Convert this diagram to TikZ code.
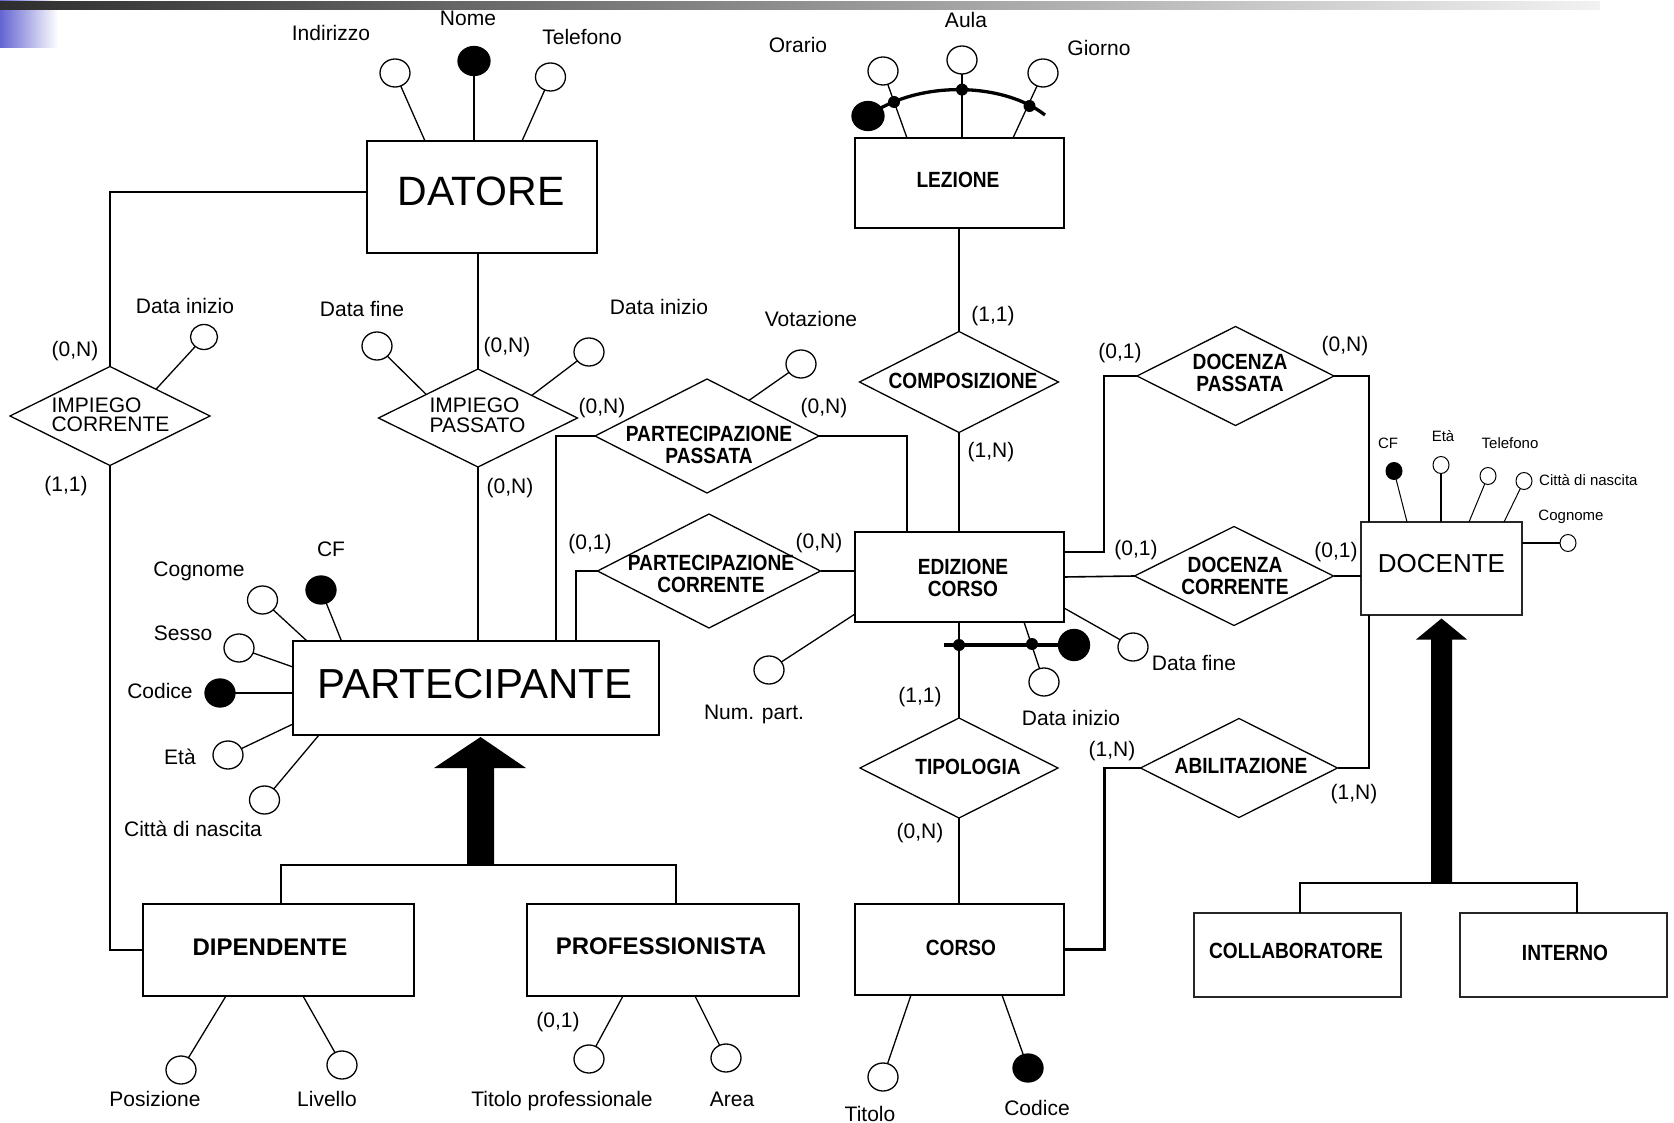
\documentclass[tikz,border=0pt]{standalone}
\usepackage{fontspec}
\setmainfont{Liberation Sans}
\newfontfamily\narrowsans{Liberation Sans}[FakeStretch=0.87]
\usetikzlibrary{shapes.geometric,calc}
\newcommand\fattr{\fontsize{21}{23}\selectfont}
\newcommand\fsmall{\fontsize{15}{17}\selectfont}
\newcommand\frel{\narrowsans\bfseries\fontsize{22}{22}\selectfont}
\newcommand\fentb{\bfseries\fontsize{24}{26}\selectfont}
\newcommand\fimp{\fontsize{21}{19.5}\selectfont}
\definecolor{barleft}{HTML}{2E2E2E}
\definecolor{barright}{HTML}{F2F2F2}
\definecolor{tabblue}{HTML}{6464D2}

\begin{document}
\begin{tikzpicture}[x=1pt,y=-1pt,
  ent/.style={draw, line width=2.2pt, inner sep=0pt, outer sep=0pt},
  entthin/.style={draw=black!85, line width=1.1pt, inner sep=0pt, outer sep=0pt},
  rel/.style={draw, diamond, line width=1.3pt, inner sep=0pt, outer sep=0pt},
  attr/.style={draw, ellipse, line width=1.3pt, minimum width=30pt, minimum height=28pt, inner sep=0pt, outer sep=0pt, fill=white},
  idattr/.style={attr, fill=black},
  sattr/.style={draw, ellipse, line width=1pt, minimum width=16pt, minimum height=17pt, inner sep=0pt, outer sep=0pt, fill=white},
  sidattr/.style={sattr, fill=black},
  alink/.style={line width=1.3pt},
  conn/.style={line width=1.6pt},
  boldconn/.style={line width=2.6pt},
  lab/.style={font=\fattr, inner sep=0pt, text height=15pt, text depth=0pt},
  slab/.style={font=\fsmall, inner sep=0pt, text height=10.7pt, text depth=0pt},
  jdot/.style={circle, fill=black, inner sep=0pt, minimum size=12pt},
  keyline/.style={line width=4.5pt},
  rtxt/.style={font=\frel, align=center, inner sep=0pt},
  etxt/.style={font=\frel, inner sep=0pt},
  itxt/.style={font=\fimp, align=left, inner sep=0pt}
]
\useasboundingbox (0,0) rectangle (1674,1123);
\fill[white] (0,0) rectangle (1674,1123);

% title bar decoration
\shade[left color=tabblue, right color=white] (0,0) rectangle (58,48);
\shade[left color=barleft, right color=barright] (0,2) rectangle (1600,10);

% ---------------- entities ----------------
\node[ent, minimum width=230pt, minimum height=112pt,
  label={[font=\fontsize{41}{41}\selectfont, inner sep=0pt, xshift=-1pt, yshift=6pt]center:DATORE}] (datore) at (482,197) {};
\node[ent, minimum width=209pt, minimum height=90pt,
  label={[etxt, xshift=-1.5pt, yshift=3pt]center:LEZIONE}] (lezione) at (959.5,183) {};
\node[ent, minimum width=209pt, minimum height=90pt,
  label={[rtxt, xshift=3.5pt, yshift=-1pt]center:EDIZIONE\\CORSO}] (edizione) at (959.5,577) {};
\node[ent, minimum width=209pt, minimum height=91pt,
  label={[etxt, xshift=1.5pt, yshift=1.5pt]center:CORSO}] (corso) at (959.5,949.5) {};
\node[ent, minimum width=366pt, minimum height=94pt,
  label={[font=\fontsize{42}{42}\selectfont, inner sep=0pt, xshift=-1pt, yshift=4pt]center:PARTECIPANTE}] (partecipante) at (476,688) {};
\node[ent, line width=2pt, minimum width=271pt, minimum height=92pt,
  label={[font=\fentb, inner sep=0pt, xshift=-8.5pt, yshift=3pt]center:DIPENDENTE}] (dipendente) at (278.5,950) {};
\node[ent, line width=2pt, minimum width=272pt, minimum height=92pt,
  label={[font=\fentb, inner sep=0pt, xshift=-2pt, yshift=4pt]center:PROFESSIONISTA}] (professionista) at (663,950) {};
\node[entthin, minimum width=161pt, minimum height=93pt,
  label={[font=\fontsize{26}{26}\selectfont, inner sep=0pt, yshift=4.5pt]center:DOCENTE}] (docente) at (1441.5,568.5) {};
\node[entthin, minimum width=207pt, minimum height=84pt,
  label={[etxt, xshift=-1.5pt, yshift=4pt]center:COLLABORATORE}] (collaboratore) at (1297.5,955) {};
\node[entthin, minimum width=207pt, minimum height=84pt,
  label={[etxt, xshift=1.5pt, yshift=2pt]center:INTERNO}] (interno) at (1563.5,955) {};

% ---------------- relationships ----------------
\node[rel, minimum width=200pt, minimum height=99pt,
  label={[itxt, xshift=0.5pt, yshift=1pt]center:IMPIEGO\\CORRENTE}] (impc) at (110,416) {};
\node[rel, minimum width=199pt, minimum height=98pt,
  label={[itxt, xshift=-0.5pt, yshift=2.5pt]center:IMPIEGO\\PASSATO}] (impp) at (478,418) {};
\node[rel, minimum width=224pt, minimum height=114pt,
  label={[rtxt, xshift=2pt, yshift=-9pt]center:PARTECIPAZIONE\\PASSATA}] (pp) at (707,436) {};
\node[rel, minimum width=223pt, minimum height=114pt,
  label={[rtxt, xshift=2pt, yshift=-3pt]center:PARTECIPAZIONE\\CORRENTE}] (pc) at (709,571) {};
\node[rel, minimum width=199pt, minimum height=101pt,
  label={[etxt, xshift=4pt, yshift=1pt]center:COMPOSIZIONE}] (comp) at (959,382) {};
\node[rel, minimum width=198pt, minimum height=100pt,
  label={[etxt, xshift=9pt, yshift=1pt]center:TIPOLOGIA}] (tip) at (959,768) {};
\node[rel, minimum width=197pt, minimum height=99pt,
  label={[etxt, xshift=2pt, yshift=2pt]center:ABILITAZIONE}] (abil) at (1239,768) {};
\node[rel, minimum width=197pt, minimum height=99pt,
  label={[rtxt, xshift=4.5pt, yshift=3pt]center:DOCENZA\\PASSATA}] (docp) at (1235.5,376) {};
\node[rel, minimum width=199pt, minimum height=99pt,
  label={[rtxt, xshift=1pt]center:DOCENZA\\CORRENTE}] (docc) at (1234,576) {};

% ---------------- connectors ----------------
\draw[conn] ($(datore.west)+(0,-5)$) -| (impc.north);
\draw[conn] (impc.south) |- (dipendente.west);
\draw[conn] ($(datore.south)+(-4,0)$) -- (impp.north);
\draw[conn] (impp.south) -- (impp.south |- partecipante.north);
\draw[boldconn] ($(partecipante.north)+(80,0)$) |- (pp.west);
\draw[boldconn] (pp.east) -| ($(edizione.north)+(-52.5,0)$);
\draw[boldconn] ($(partecipante.north)+(100,0)$) |- (pc.west);
\draw[conn] (pc.east) -- (pc.east -| edizione.west);
\draw[conn] (comp.north |- lezione.south) -- (comp.north);
\draw[conn] (comp.south) -- (comp.south |- edizione.north);
\draw[conn] (tip.north |- edizione.south) -- (tip.north);
\draw[conn] (tip.south) -- (tip.south |- corso.north);
\draw[boldconn] (corso.east) -| ($(abil.west)+(-36,0)$) -- (abil.west);
\draw[boldconn] (abil.east) -| ($(docente.south)+(-72.5,0)$);
\draw[boldconn] ($(edizione.east)+(0,-25)$) -| ($(docp.west)+(-33,0)$) -- (docp.west);
\draw[boldconn] (docp.east) -| ($(docente.north)+(-72.5,0)$);
\draw[conn] (edizione.east) -- (docc.west);
\draw[boldconn] (docc.east) -- (docc.east -| docente.west);

% ---------------- generalisations ----------------
\coordinate (isa1) at (480.5,865);
\coordinate (isa1tip) at ($(partecipante.south)+(4.5,2)$);
\draw[conn, line width=2pt] ($(dipendente.north)+(2.5,0)$) |- (isa1) -| ($(professionista.north)+(13,0)$);
\fill ($(isa1)+(-13.5,0)$) -- ($(isa1tip)+(-13.5,31)$) -- ($(isa1tip)+(-46.5,31)$) -- (isa1tip)
  -- ($(isa1tip)+(45.5,31)$) -- ($(isa1tip)+(13.5,31)$) -- ($(isa1)+(13.5,0)$) -- cycle;

\coordinate (isa2) at (1441.5,883);
\coordinate (isa2tip) at ($(docente.south)+(0,3.5)$);
\draw[conn, line width=2pt] ($(collaboratore.north)+(2.5,0)$) |- (isa2) -| ($(interno.north)+(13.5,0)$);
\fill ($(isa2)+(-10.5,0)$) -- ($(isa2tip)+(-10.5,21)$) -- ($(isa2tip)+(-25.5,21)$) -- (isa2tip)
  -- ($(isa2tip)+(25.5,21)$) -- ($(isa2tip)+(10.5,21)$) -- ($(isa2)+(10.5,0)$) -- cycle;

% ---------------- attributes: DATORE ----------------
\node[attr] (a_ind) at (395,73) {};
\node[idattr, minimum width=32pt, minimum height=29pt] (a_nome) at (474,61) {};
\node[attr] (a_tel) at (550.5,77) {};
\draw[alink] (a_ind) -- ($(datore.north west)+(58,0)$);
\draw[alink] (a_nome) -- ($(datore.north west)+(107,0)$);
\draw[alink] (a_tel) -- ($(datore.north west)+(155,0)$);
\node[lab] (l_ind) at (331,33.5) {Indirizzo};
\node[lab] (l_nome) at (468,18) {Nome};
\node[lab] (l_tel) at (582,37) {Telefono};

% ---------------- attributes: LEZIONE (composite identifier) ----------------
\node[attr] (a_or) at (883,71) {};
\node[attr] (a_au) at (962,60) {};
\node[attr] (a_gi) at (1043,73) {};
\draw[alink] (a_or) -- ($(lezione.north west)+(52,0)$);
\draw[alink] (a_au) -- ($(lezione.north west)+(107,0)$);
\draw[alink] (a_gi) -- ($(lezione.north west)+(158,0)$);
\node[idattr, minimum width=32pt, minimum height=29pt] (a_lkey) at (868,116) {};
\draw[line width=3.3pt] (a_lkey.center) .. controls (918,80) and (1003,82) .. (1045,115);
\node[jdot] (j_or) at (894,102) {};
\node[jdot] (j_au) at (962,89.6) {};
\node[jdot] (j_gi) at (1029.5,106) {};
\node[lab] (l_or) at (798,45.5) {Orario};
\node[lab] (l_au) at (966,20) {Aula};
\node[lab] (l_gi) at (1099,48.5) {Giorno};

% ---------------- attributes of relationships ----------------
\node[attr, minimum width=27pt, minimum height=25pt] (a_di1) at (204,337) {};
\draw[alink] (a_di1) -- ($(impc.north)!0.46!(impc.east)$);
\node[lab] (l_di1) at (185,306) {Data inizio};

\node[attr] (a_df1) at (377,346) {};
\node[attr] (a_di2) at (589,352) {};
\draw[alink] (a_df1) -- ($(impp.west)!0.48!(impp.north)$);
\draw[alink] (a_di2) -- ($(impp.north)!0.54!(impp.east)$);
\node[lab] (l_df1) at (362,309) {Data fine};
\node[lab] (l_di2) at (659,307) {Data inizio};

\node[attr] (a_vot) at (801,364) {};
\draw[alink] (a_vot) -- ($(pp.north)!0.375!(pp.east)$);
\node[lab] (l_vot) at (811,319) {Votazione};

% ---------------- attributes: PARTECIPANTE ----------------
\node[attr] (a_cog) at (262.5,600) {};
\node[idattr] (a_cf) at (321,590) {};
\node[attr] (a_ses) at (239,648) {};
\node[idattr] (a_cod) at (220,693) {};
\node[attr] (a_eta) at (228,755) {};
\node[attr] (a_cit) at (264.5,800) {};
\draw[alink] (a_cog) -- ($(partecipante.north west)+(14,0)$);
\draw[alink] (a_cf) -- ($(partecipante.north west)+(48.5,0)$);
\draw[alink] (a_ses) -- ($(partecipante.north west)+(0,26)$);
\draw[alink] (a_cod) -- ($(partecipante.north west)+(0,52)$);
\draw[alink] (a_eta) -- ($(partecipante.north west)+(0,83)$);
\draw[alink] (a_cit) -- ($(partecipante.south west)+(26,0)$);
\node[lab] (l_cog) at (199,569) {Cognome};
\node[lab] (l_cf) at (331,549) {CF};
\node[lab] (l_ses) at (183,633) {Sesso};
\node[lab] (l_cod) at (160,691) {Codice};
\node[lab] (l_eta) at (180,757) {Età};
\node[lab] (l_cit) at (193,829) {Città di nascita};

% ---------------- attributes: EDIZIONE CORSO (composite identifier) ----------------
\node[attr] (a_np) at (769,670) {};
\node[attr] (a_dfe) at (1133,647) {};
\node[attr] (a_die) at (1044,682) {};
\draw[alink] (a_np) -- ($(edizione.south west)+(0,-8)$);
\draw[alink] (a_dfe) -- ($(edizione.south east)+(0,-14)$);
\draw[alink] (a_die) -- ($(edizione.south west)+(169,0)$);
\coordinate (edbar) at (943.5,645);
\node[idattr, minimum width=31pt, minimum height=31pt] (a_edkey) at (1074,645) {};
\draw[keyline] (edbar) -- (a_edkey.center);
\node[jdot] (j_ed1) at (959,645) {};
\node[jdot] (j_ed2) at (1032,644) {};
\node[lab] (l_np) at (754,712) {Num. part.};
\node[lab] (l_dfe) at (1194,663) {Data fine};
\node[lab] (l_die) at (1071,718) {Data inizio};

% ---------------- attributes: DIPENDENTE, PROFESSIONISTA, CORSO ----------------
\node[attr] (a_pos) at (181,1070) {};
\node[attr] (a_liv) at (342,1065) {};
\draw[alink] (a_pos) -- ($(dipendente.south west)+(83,0)$);
\draw[alink] (a_liv) -- ($(dipendente.south west)+(160,0)$);
\node[lab] (l_pos) at (155,1099) {Posizione};
\node[lab] (l_liv) at (327,1099) {Livello};

\node[attr] (a_tp) at (589,1059) {};
\node[attr] (a_area) at (726,1058) {};
\draw[alink] (a_tp) -- ($(professionista.south west)+(96,0)$);
\draw[alink] (a_area) -- ($(professionista.south west)+(168,0)$);
\node[lab] (l_tp) at (562,1099) {Titolo professionale};
\node[lab] (l_area) at (732,1099) {Area};
\node[lab] (c_tp) at (558,1020) {(0,1)};

\node[attr] (a_tit) at (883,1077) {};
\node[idattr] (a_cc) at (1028,1068) {};
\draw[alink] (a_tit) -- ($(corso.south west)+(56,0)$);
\draw[alink] (a_cc) -- ($(corso.south west)+(147,0)$);
\node[lab] (l_tit) at (870,1113.5) {Titolo};
\node[lab] (l_cc) at (1037,1108) {Codice};

% ---------------- attributes: DOCENTE ----------------
\node[sidattr] (a_dcf) at (1394,471) {};
\node[sattr] (a_det) at (1441,465) {};
\node[sattr] (a_dtel) at (1488,476) {};
\node[sattr] (a_dcn) at (1524,481) {};
\node[sattr] (a_dcog) at (1568,543) {};
\draw[alink, line width=1pt] (a_dcf) -- ($(docente.north west)+(46,0)$);
\draw[alink, line width=1.3pt] (a_det) -- ($(docente.north west)+(80,0)$);
\draw[alink, line width=1pt] (a_dtel) -- ($(docente.north west)+(108,0)$);
\draw[alink, line width=1pt] (a_dcn) -- ($(docente.north west)+(143,0)$);
\draw[line width=2.3pt] ($(docente.north east)+(0,21)$) -- (a_dcog);
\node[slab] (l_dcf) at (1388,443) {CF};
\node[slab] (l_det) at (1443,436) {Età};
\node[slab] (l_dtel) at (1510,443) {Telefono};
\node[slab, anchor=west] (l_dcn) at (1539,480) {Città di nascita};
\node[slab] (l_dcog) at (1571,515) {Cognome};

% ---------------- cardinalities ----------------
\node[lab] (c_impc1) at (75,349) {(0,N)};
\node[lab] (c_impc2) at (66,484) {(1,1)};
\node[lab] (c_impp1) at (507,345) {(0,N)};
\node[lab] (c_impp2) at (510,486) {(0,N)};
\node[lab] (c_pp1) at (602,406) {(0,N)};
\node[lab] (c_pp2) at (824,406) {(0,N)};
\node[lab] (c_pc1) at (590,542) {(0,1)};
\node[lab] (c_pc2) at (819,541) {(0,N)};
\node[lab] (c_comp1) at (993,314) {(1,1)};
\node[lab] (c_comp2) at (991,450) {(1,N)};
\node[lab] (c_tip1) at (920,695) {(1,1)};
\node[lab] (c_tip2) at (920,831) {(0,N)};
\node[lab] (c_abil1) at (1112,749) {(1,N)};
\node[lab] (c_abil2) at (1354,792) {(1,N)};
\node[lab] (c_docp1) at (1120,351) {(0,1)};
\node[lab] (c_docp2) at (1345,344) {(0,N)};
\node[lab] (c_docc1) at (1136,548) {(0,1)};
\node[lab] (c_docc2) at (1336,550) {(0,1)};
\end{tikzpicture}
\end{document}
